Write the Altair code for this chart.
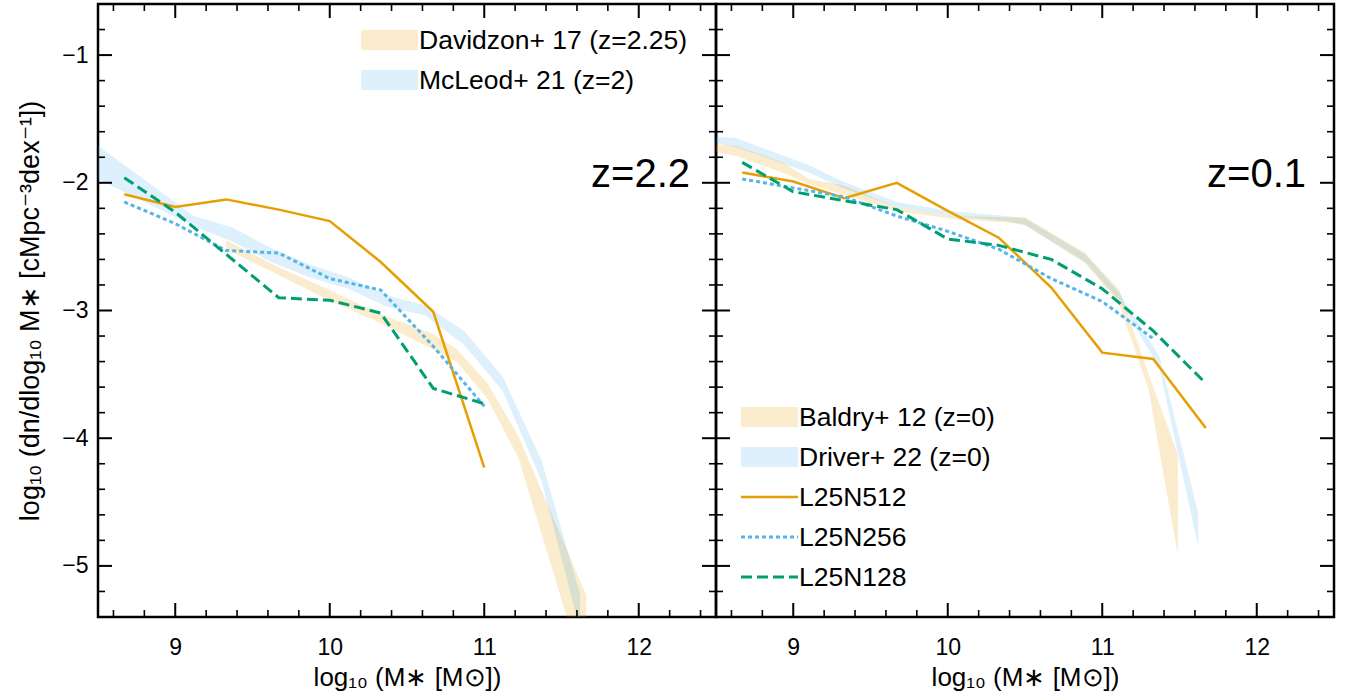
import altair as alt
import pandas as pd

# ---------------- data ----------------
# simulations, z=2.2 panel
sim_x_z2 = [8.67, 9.0, 9.33, 9.67, 10.0, 10.33, 10.67, 11.0]
L512_z2 = [-2.09, -2.19, -2.13, -2.21, -2.30, -2.62, -3.01, -4.23]
L256_z2 = [-2.15, -2.32, -2.53, -2.55, -2.75, -2.84, -3.28, -3.75]
L128_z2 = [-1.96, -2.23, -2.56, -2.90, -2.92, -3.02, -3.61, -3.73]

# simulations, z=0.1 panel
sim_x_z0 = [8.67, 9.0, 9.33, 9.67, 10.0, 10.33, 10.67, 11.0, 11.33, 11.67]
L512_z0 = [-1.92, -1.99, -2.12, -2.00, -2.22, -2.43, -2.82, -3.33, -3.38, -3.92]
sim_x_z0_256 = [8.67, 9.0, 9.33, 9.67, 10.0, 10.33, 10.67, 11.0, 11.33]
L256_z0 = [-1.97, -2.04, -2.11, -2.26, -2.38, -2.52, -2.75, -2.93, -3.22]
L128_z0 = [-1.84, -2.07, -2.14, -2.21, -2.44, -2.49, -2.60, -2.83, -3.16, -3.57]

# observations, z=2 panel
davidzon_x = [9.33, 9.65, 9.98, 10.33, 10.66, 10.82, 11.02, 11.22, 11.66]
davidzon_lo = [-2.52, -2.71, -2.91, -3.10, -3.30, -3.40, -3.69, -4.15, -5.90]
davidzon_hi = [-2.45, -2.65, -2.83, -3.03, -3.18, -3.30, -3.57, -3.98, -5.23]

mcleod_x = [8.5, 9.12, 9.37, 9.62, 9.87, 10.12, 10.37, 10.62, 10.87, 11.12, 11.37, 11.62]
mcleod_lo = [-1.97, -2.34, -2.46, -2.62, -2.74, -2.83, -2.97, -3.04, -3.27, -3.63, -4.33, -5.50]
mcleod_hi = [-1.71, -2.26, -2.35, -2.51, -2.64, -2.74, -2.88, -2.96, -3.16, -3.52, -4.17, -5.22]

# observations, z=0 panel
baldry_x = [8.5, 8.63, 8.93, 9.1, 9.32, 9.67, 10.01, 10.38, 10.5, 10.89, 11.11, 11.3, 11.49]
baldry_lo = [-1.76, -1.79, -1.92, -2.01, -2.09, -2.22, -2.28, -2.31, -2.33, -2.63, -2.95, -3.62, -4.92]
baldry_hi = [-1.70, -1.71, -1.84, -1.97, -2.02, -2.19, -2.26, -2.27, -2.27, -2.55, -2.84, -3.50, -4.13]

driver_x = [8.5, 8.63, 9.1, 9.32, 9.67, 10.01, 10.38, 10.5, 10.89, 11.11, 11.37, 11.62]
driver_lo = [-1.69, -1.72, -1.92, -2.04, -2.19, -2.26, -2.30, -2.33, -2.62, -2.92, -3.45, -4.84]
driver_hi = [-1.64, -1.65, -1.86, -1.99, -2.15, -2.22, -2.26, -2.28, -2.56, -2.86, -3.36, -4.58]

# ticks
x_major = [9, 10, 11, 12]
x_minor = [8.6, 8.8, 9.2, 9.4, 9.6, 9.8, 10.2, 10.4, 10.6, 10.8,
           11.2, 11.4, 11.6, 11.8, 12.2, 12.4]
y_major = [-5, -4, -3, -2, -1]
y_minor = [-5.2, -4.8, -4.6, -4.4, -4.2, -3.8, -3.6, -3.4, -3.2,
           -2.8, -2.6, -2.4, -2.2, -1.8, -1.6, -1.4, -1.2, -0.8]

# ---------------- styling ----------------
FONT = "Liberation Sans"
ORANGE = "#E69F00"
BLUE = "#56B4E9"
GREEN = "#009E73"
W, H = 618, 613
MAJ, MIN = 14, 7
LEG = 26.5

xscale = alt.Scale(domain=[8.5, 12.5], nice=False, zero=False)
yscale = alt.Scale(domain=[-5.4, -0.6], nice=False, zero=False)

xaxis = alt.Axis(values=x_major, ticks=False, domain=False, grid=False,
                 labelFontSize=23, labelPadding=19, labelColor="black",
                 title="log₁₀ (M∗ [M⊙])", titleFontSize=26, titleFontWeight="normal",
                 titleColor="black", titlePadding=5, labelFont=FONT, titleFont=FONT)
yaxis = alt.Axis(values=y_major, ticks=False, domain=False, grid=False,
                 labelFontSize=23, labelPadding=10, labelColor="black",
                 labelExpr="replace(datum.label, '-', '−')",
                 title="log₁₀ (dn/dlog₁₀ M∗ [cMpc⁻³dex⁻¹])", titleFontSize=27,
                 titleFontWeight="normal", titleColor="black", titlePadding=17,
                 labelFont=FONT, titleFont=FONT)


def X(field, show=True):
    return alt.X(field, type="quantitative", scale=xscale, axis=xaxis if show else None)


def Y(field, show):
    return alt.Y(field, type="quantitative", scale=yscale, axis=yaxis if show else None)


def band(xs, lo, hi, color, show):
    df = pd.DataFrame({"x": xs, "lo": lo, "hi": hi})
    return alt.Chart(df).mark_area(color=color, opacity=0.2, clip=True).encode(
        x=X("x"), y=Y("lo", show), y2="hi")


def line(xs, ys, color, dash, width, show):
    df = pd.DataFrame({"x": xs, "y": ys})
    kw = dict(color=color, strokeWidth=width, clip=True)
    if dash:
        kw["strokeDash"] = dash
    return alt.Chart(df).mark_line(**kw).encode(x=X("x"), y=Y("y", show))


def ticks(show):
    layers = []
    for vals, size, sw in [(x_major, MAJ, 2), (x_minor, MIN, 1.6)]:
        df = pd.DataFrame({"t": vals})
        base = alt.Chart(df).mark_rule(color="black", strokeWidth=sw)
        layers.append(base.encode(x=X("t"), y=alt.value(0), y2=alt.value(size)))
        layers.append(base.encode(x=X("t"), y=alt.value(H), y2=alt.value(H - size)))
    for vals, size, sw in [(y_major, MAJ, 2), (y_minor, MIN, 1.6)]:
        df = pd.DataFrame({"t": vals})
        base = alt.Chart(df).mark_rule(color="black", strokeWidth=sw)
        layers.append(base.encode(y=Y("t", show), x=alt.value(0), x2=alt.value(size)))
        layers.append(base.encode(y=Y("t", show), x=alt.value(W), x2=alt.value(W - size)))
    return layers


def label(text, x, y, size, align="left"):
    return alt.Chart(pd.DataFrame({"t": [text]})).mark_text(
        font=FONT, fontSize=size, align=align, baseline="middle", color="black"
    ).encode(text="t:N", x=alt.value(x), y=alt.value(y))


def patch(color, x, y):
    return alt.Chart(pd.DataFrame({"k": [0]})).mark_rect(color=color, opacity=0.2).encode(
        x=alt.value(x), x2=alt.value(x + 57), y=alt.value(y - 10), y2=alt.value(y + 10))


def legline(color, dash, width, x, y):
    kw = dict(color=color, strokeWidth=width)
    if dash:
        kw["strokeDash"] = dash
    return alt.Chart(pd.DataFrame({"k": [0]})).mark_rule(**kw).encode(
        x=alt.value(x), x2=alt.value(x + 57), y=alt.value(y))


DOT = [4, 3]
DASH = [11, 5]

# ---------------- left panel (z=2.2) ----------------
left_layers = [
    band(davidzon_x, davidzon_lo, davidzon_hi, ORANGE, True),
    band(mcleod_x, mcleod_lo, mcleod_hi, BLUE, True),
    line(sim_x_z2, L512_z2, ORANGE, None, 2.5, True),
    line(sim_x_z2, L256_z2, BLUE, DOT, 3, True),
    line(sim_x_z2, L128_z2, GREEN, DASH, 3, True),
] + ticks(True) + [
    label("z=2.2", W - 26, 171, 40, "right"),
    patch(ORANGE, 263, 36), label("Davidzon+ 17 (z=2.25)", 321, 37, LEG),
    patch(BLUE, 263, 76), label("McLeod+ 21 (z=2)", 321, 77, LEG),
]
left = alt.layer(*left_layers).properties(width=W, height=H)

# ---------------- right panel (z=0.1) ----------------
lx, ly0, dy = 25, 413, 40
right_layers = [
    band(baldry_x, baldry_lo, baldry_hi, ORANGE, False),
    band(driver_x, driver_lo, driver_hi, BLUE, False),
    line(sim_x_z0, L512_z0, ORANGE, None, 2.5, False),
    line(sim_x_z0_256, L256_z0, BLUE, DOT, 3, False),
    line(sim_x_z0, L128_z0, GREEN, DASH, 3, False),
] + ticks(False) + [
    label("z=0.1", W - 28, 171, 40, "right"),
    patch(ORANGE, lx, ly0), label("Baldry+ 12 (z=0)", lx + 58, ly0 + 1, LEG),
    patch(BLUE, lx, ly0 + dy), label("Driver+ 22 (z=0)", lx + 58, ly0 + dy + 1, LEG),
    legline(ORANGE, None, 2.5, lx, ly0 + 2 * dy), label("L25N512", lx + 58, ly0 + 2 * dy + 1, LEG),
    legline(BLUE, DOT, 3, lx, ly0 + 3 * dy), label("L25N256", lx + 58, ly0 + 3 * dy + 1, LEG),
    legline(GREEN, DASH, 3, lx, ly0 + 4 * dy), label("L25N128", lx + 58, ly0 + 4 * dy + 1, LEG),
]
right = alt.layer(*right_layers).properties(width=W, height=H)

chart = alt.hconcat(left, right, spacing=0, bounds="flush").properties(
    padding={"left": 15, "top": 1, "right": 0, "bottom": 0},
).configure(font=FONT).configure_view(stroke="black", strokeWidth=2.5)

chart.save("out.html", embed_options={"renderer": "svg", "actions": False})
